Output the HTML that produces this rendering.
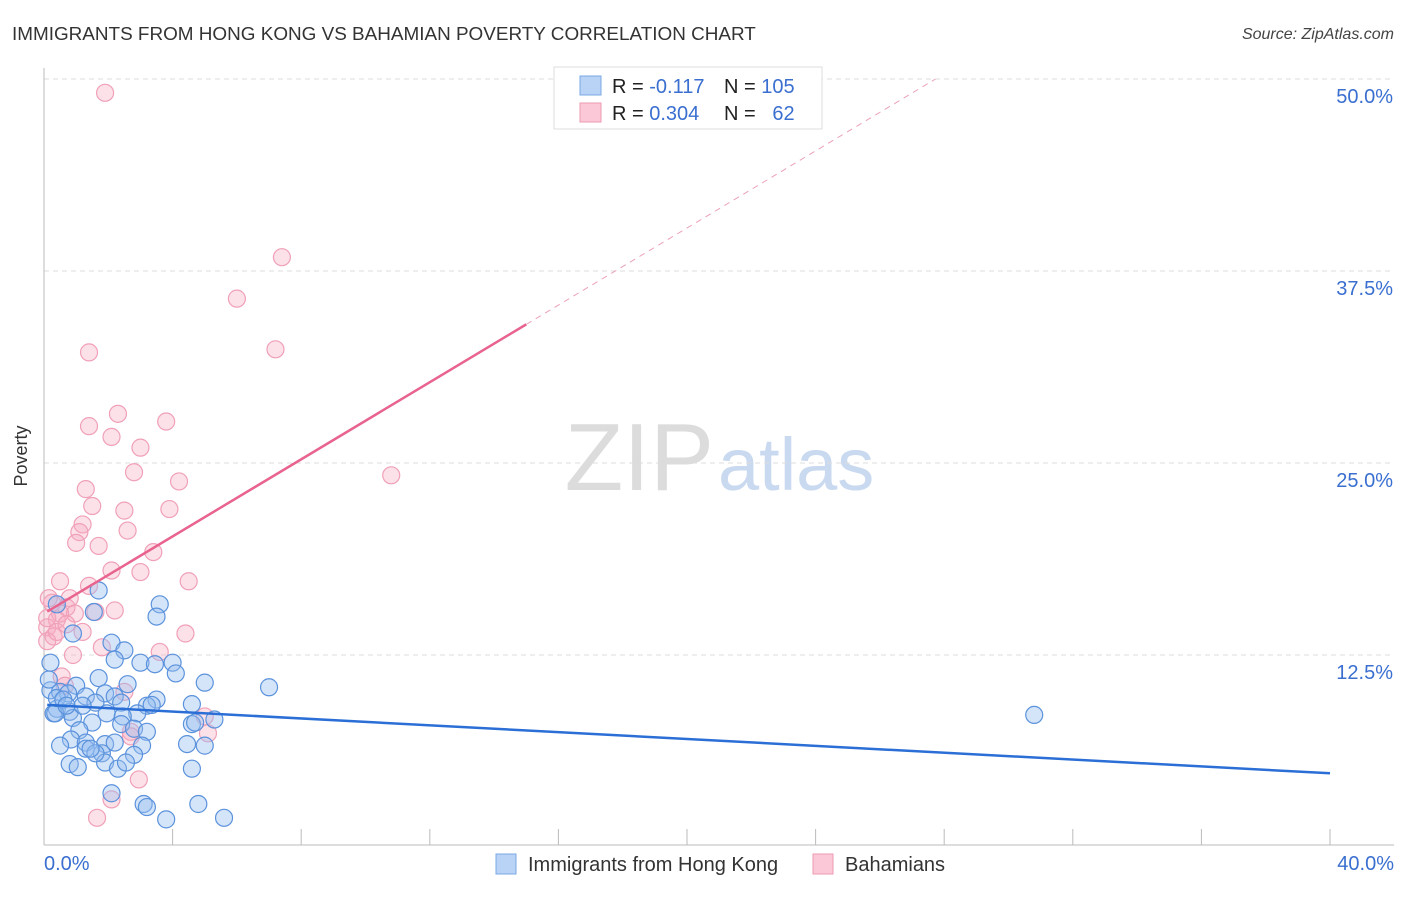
<!DOCTYPE html>
<html><head><meta charset="utf-8"><style>
body{margin:0;background:#fff;font-family:"Liberation Sans",sans-serif;}
svg text{font-family:"Liberation Sans",sans-serif;}
</style></head><body>
<svg id="c" width="1406" height="892" xmlns="http://www.w3.org/2000/svg">
<text x="12" y="40" font-size="18.9" fill="#333">IMMIGRANTS FROM HONG KONG VS BAHAMIAN POVERTY CORRELATION CHART</text>
<text x="1394" y="39" font-size="16" fill="#444" text-anchor="end" font-style="italic">Source: ZipAtlas.com</text>
<text x="714" y="490" font-size="96" fill="#dcdcdc" text-anchor="end" font-family="Liberation Serif">ZIP</text>
<text x="718" y="490" font-size="74" fill="#c9d9f0">atlas</text>
<g id="grid"></g><g id="pts"></g><g id="lines"></g>
<text x="27" y="456" font-size="18" fill="#333" transform="rotate(-90 27 456)" text-anchor="middle">Poverty</text>
<g>
<rect x="554" y="67" width="268" height="62" fill="#fff" stroke="#ddd"/>
<rect x="580" y="76" width="21" height="19" fill="#b8d3f5" stroke="#7aa8e6"/>
<rect x="580" y="103" width="21" height="19" fill="#fac8d6" stroke="#ef9ab3"/>
<text x="612" y="93" font-size="20" fill="#222">R = <tspan fill="#3a6fd0">-0.117</tspan></text>
<text x="724" y="93" font-size="20" fill="#222">N = <tspan fill="#3a6fd0">105</tspan></text>
<text x="612" y="120" font-size="20" fill="#222">R = <tspan fill="#3a6fd0">0.304</tspan></text>
<text x="724" y="120" font-size="20" fill="#222">N = <tspan fill="#3a6fd0">&#160;&#160;62</tspan></text>
</g>
<g>
<rect x="496" y="854" width="20" height="20" fill="#b8d3f5" stroke="#7aa8e6"/>
<text x="528" y="871" font-size="20" fill="#333">Immigrants from Hong Kong</text>
<rect x="813" y="854" width="20" height="20" fill="#fac8d6" stroke="#ef9ab3"/>
<text x="845" y="871" font-size="20" fill="#333">Bahamians</text>
</g>
</svg>
<script>
const yTicks=[12.5,25,37.5,50];
const yTickLabels=["12.5%","25.0%","37.5%","50.0%"];
const xTickLabels=["0.0%","40.0%"];
const blueX=[30.8,7.0,3.6,3.5,1.7,0.4,1.55,0.9,2.1,2.5,2.2,3.0,3.45,4.0,4.1,0.2,1.7,2.6,5.0,1.0,0.2,0.5,0.75,1.3,1.9,2.2,3.5,4.6,3.2,3.35,2.4,1.6,0.4,0.8,0.3,1.95,2.9,2.45,0.9,1.5,4.6,5.3,4.7,2.4,1.1,2.8,3.2,0.84,1.3,1.9,2.2,1.3,3.05,4.45,5.0,1.8,2.8,0.8,1.05,1.9,2.3,2.55,4.6,2.1,3.1,3.2,4.8,3.8,5.6,0.35,0.4,0.6,0.7,1.2,0.15,0.5,1.6,1.45];
const blueY=[8.6,10.4,15.8,15.0,16.7,15.8,15.3,13.9,13.3,12.8,12.2,12.0,11.9,12.0,11.3,12.0,11.0,10.6,10.7,10.5,10.2,10.1,10.0,9.8,10.0,9.8,9.6,9.3,9.2,9.25,9.4,9.4,9.0,8.8,8.7,8.7,8.7,8.5,8.4,8.1,8.0,8.3,8.1,8.0,7.6,7.7,7.5,7.0,6.8,6.7,6.8,6.4,6.6,6.7,6.6,6.1,6.0,5.4,5.2,5.5,5.1,5.5,5.1,3.5,2.8,2.6,2.8,1.8,1.9,8.7,9.7,9.6,9.2,9.2,10.9,6.6,6.1,6.4];
const pinkX=[1.9,7.4,6.0,7.2,1.4,2.3,3.8,1.4,2.1,3.0,2.8,10.8,4.2,1.3,1.5,2.5,3.9,1.2,1.1,2.6,1.0,1.7,3.4,2.1,3.0,0.5,4.5,1.4,0.8,0.25,0.7,1.6,2.2,0.96,0.4,0.1,1.2,4.4,0.3,1.8,0.9,3.6,0.55,0.65,2.5,5.0,5.1,2.7,2.95,2.1,1.65,0.15,0.1,0.4,0.5,2.7,0.1,0.7];
const pinkY=[49.1,38.4,35.7,32.4,32.2,28.2,27.7,27.4,26.7,26.0,24.4,24.2,23.8,23.3,22.2,21.9,22.0,21.0,20.5,20.6,19.8,19.6,19.2,18.0,17.9,17.3,17.3,17.0,16.2,15.9,15.6,15.3,15.4,15.2,14.8,14.3,14.0,13.9,13.7,13.0,12.5,12.7,11.1,10.5,10.1,8.5,7.4,7.5,4.4,3.1,1.9,16.2,13.4,14.0,15.2,7.2,14.9,14.5];
const blueLine=[9.25,4.8];   // y at x=0, x=40
const pinkLine=[15.2,1.255]; // intercept, slope
const X=v=>44+v*32.15, Y=v=>847-v*15.36;
const NS="http://www.w3.org/2000/svg";
function mk(t,a,p){const e=document.createElementNS(NS,t);for(const k in a)e.setAttribute(k,a[k]);p.appendChild(e);return e;}
const g=document.getElementById('grid');
yTicks.forEach((t,i)=>{
 const l=mk('line',{x1:44,x2:1394,y1:Y(t),y2:Y(t),stroke:'#ddd','stroke-dasharray':'5,4'},g);
 
 
 const tx=mk('text',{x:1393,y:Y(t)+24,'font-size':20,fill:'#3a6fd0','text-anchor':'end'},g);tx.textContent=yTickLabels[i];
 
 
});
const ax=mk('line',{x1:44,x2:44,y1:68,y2:845,stroke:'#bbb'},g);


const bx=mk('line',{x1:44,x2:1394,y1:845,y2:845,stroke:'#bbb'},g);


for(let i=0;i<=10;i++){const t=mk('line',{x1:X(i*4),x2:X(i*4),y1:829,y2:845,stroke:'#bbb'},g);
 
 }
[[0,'start',44],[40,'end',1394]].forEach((d,i)=>{const t=mk('text',{x:d[2],y:870,'font-size':20,fill:'#3a6fd0','text-anchor':d[1]},g);t.textContent=xTickLabels[i];
 
 });
const p=document.getElementById('pts');
pinkX.forEach((x,i)=>{const c=mk('circle',{cx:X(x),cy:Y(pinkY[i]),r:8.5,fill:'rgba(247,168,192,0.35)',stroke:'#f0a0b8','stroke-width':1.2},p);
 
 });
blueX.forEach((x,i)=>{const c=mk('circle',{cx:X(x),cy:Y(blueY[i]),r:8.5,fill:'rgba(150,190,240,0.4)',stroke:'#5b92dc','stroke-width':1.2},p);
 
 });
const L=document.getElementById('lines');
const bl=mk('line',{x1:X(0.1),y1:Y(blueLine[0]),x2:X(40),y2:Y(blueLine[1]),stroke:'#2b6fd6','stroke-width':2.5},L);


const pe=(50-pinkLine[0])/pinkLine[1];
const pl=mk('line',{x1:X(0.1),y1:Y(pinkLine[0]+0.1*pinkLine[1]),x2:X(15),y2:Y(pinkLine[0]+15*pinkLine[1]),stroke:'#e8648f','stroke-width':2.5},L);


const pd=mk('line',{x1:X(15),y1:Y(pinkLine[0]+15*pinkLine[1]),x2:X(pe),y2:Y(50),stroke:'#eaa0b8','stroke-width':1,'stroke-dasharray':'6,5'},L);


</script>
</body></html>
